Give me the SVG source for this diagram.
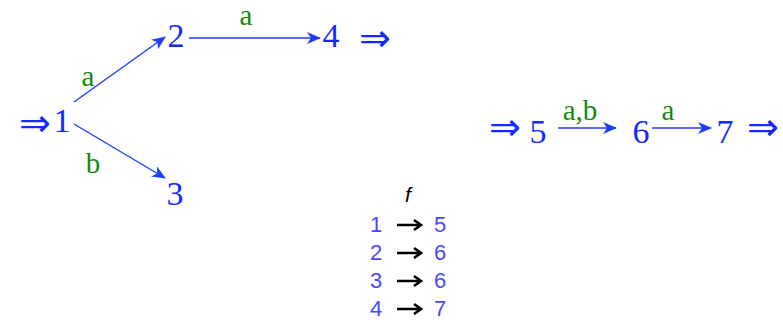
<svg xmlns="http://www.w3.org/2000/svg" width="783" height="320" viewBox="0 0 783 320">
<style>
.n{font-family:"Liberation Serif","DejaVu Serif",serif;font-size:34px;fill:#1428ff;text-anchor:middle}
.d{font-family:"DejaVu Sans",sans-serif;font-size:38px;fill:#1428ff;text-anchor:middle}
.l{font-family:"Liberation Serif",serif;font-size:29px;fill:#0f8a0f;text-anchor:middle}
.e{stroke:#1e3cff;stroke-width:1.4;fill:none;marker-end:url(#ah)}
.t{font-family:"Liberation Sans",Arial,sans-serif;font-size:22px;fill:#4848ff}
.ta{stroke:#000;stroke-width:2.6;fill:none}
</style>
<defs>
<marker id="ah" viewBox="0 0 14 12" refX="13" refY="6" markerWidth="14" markerHeight="12" markerUnits="userSpaceOnUse" orient="auto">
<path d="M0,0 L14,6 L0,12 L4,6 Z" fill="#1e3cff"/>
</marker>
</defs>
<g id="left">
<g id="n1"><text class="d" x="35" y="136">⇒</text><text class="n" x="62" y="132">1</text></g>
<g id="n2"><text class="n" x="176" y="47">2</text></g>
<g id="n4"><text class="n" x="331" y="47">4</text><text class="d" x="375" y="51">⇒</text></g>
<g id="n3"><text class="n" x="175" y="205">3</text></g>
</g>
<g id="right">
<g id="i"><text class="d" x="505" y="140">⇒</text></g>
<g id="n5"><text class="n" x="538" y="143">5</text></g>
<g id="n6"><text class="n" x="641" y="143">6</text></g>
<g id="n7"><text class="n" x="725" y="143">7</text><text class="d" x="763" y="140">⇒</text></g>
</g>
<g id="connectors">
<path class="e" d="M74,102 L165,37"/>
<path class="e" d="M74,124 L165,178"/>
<path class="e" d="M189,38 L320,38"/>
<path class="e" d="M558,128 L616,128"/>
<path class="e" d="M652,128 L711,128"/>
</g>
<g id="labels">
<text class="l" x="88" y="86">a</text>
<text class="l" x="93" y="173">b</text>
<text class="l" x="246" y="25">a</text>
<text class="l" x="580" y="120">a,b</text>
<text class="l" x="668" y="120">a</text>
</g>
<g id="table">
<text x="408" y="202" style="font-family:'Liberation Sans',Arial,sans-serif;font-size:21px;font-style:italic;fill:#000" text-anchor="middle">f</text>
<text class="t" x="370" y="232">1</text><text class="t" x="434" y="232">5</text>
<text class="t" x="370" y="260">2</text><text class="t" x="434" y="260">6</text>
<text class="t" x="370" y="288">3</text><text class="t" x="434" y="288">6</text>
<text class="t" x="370" y="316">4</text><text class="t" x="434" y="316">7</text>
<g id="tarrows">
<path class="ta" d="M397,225 H420 M414,220 L421,225 L414,230"/>
<path class="ta" d="M397,253 H420 M414,248 L421,253 L414,258"/>
<path class="ta" d="M397,281 H420 M414,276 L421,281 L414,286"/>
<path class="ta" d="M397,309 H420 M414,304 L421,309 L414,314"/>
</g>
</g>
</svg>
